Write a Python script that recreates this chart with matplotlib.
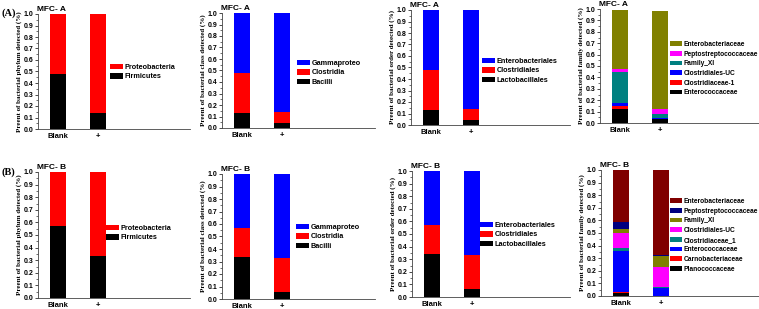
import matplotlib
matplotlib.use("Agg")
import matplotlib.pyplot as plt
from matplotlib.patches import Patch
from matplotlib.ticker import MultipleLocator
from matplotlib.transforms import ScaledTranslation

W, H = 759, 309

samples = ["Blank", "+"]

phylum_names = ["Firmicutes", "Proteobacteria"]
phylum_A = {"Blank": [0.48, 0.52], "+": [0.14, 0.86]}
phylum_B = {"Blank": [0.57, 0.43], "+": [0.33, 0.67]}

class_names = ["Bacilli", "Clostridia", "Gammaproteo"]
class_A = {"Blank": [0.13, 0.35, 0.52], "+": [0.04, 0.10, 0.86]}
class_B = {"Blank": [0.34, 0.23, 0.43], "+": [0.06, 0.27, 0.67]}

order_names = ["Lactobacillales", "Clostridiales", "Enterobacteriales"]
order_A = {"Blank": [0.13, 0.35, 0.52], "+": [0.045, 0.095, 0.86]}
order_B = {"Blank": [0.34, 0.23, 0.43], "+": [0.06, 0.27, 0.67]}

family_A_names = ["Enterococcaceae", "Clostridiaceae-1", "Clostridiales-UC",
                  "Family_XI", "Peptostreptococcaceae", "Enterobacteriaceae"]
family_A = {"Blank": [0.125, 0.025, 0.025, 0.27, 0.025, 0.52],
            "+": [0.035, 0.002, 0.003, 0.042, 0.038, 0.86]}

family_B_names = ["Planococcaceae", "Carnobacteriaceae", "Enterococcaceae",
                  "Clostridiaceae_1", "Clostridiales-UC", "Family_XI",
                  "Peptostreptococcaceae", "Enterobacteriaceae"]
family_B = {"Blank": [0.02, 0.014, 0.326, 0.018, 0.122, 0.03, 0.055, 0.415],
            "+": [0.0, 0.0, 0.065, 0.003, 0.162, 0.085, 0.013, 0.672]}

c2 = ["#000000", "#ff0000"]
c3 = ["#000000", "#ff0000", "#0000ff"]
c6 = ["#000000", "#ff0000", "#0000ff", "#008080", "#ff00ff", "#808000"]
c8 = ["#000000", "#ff0000", "#0000ff", "#008080", "#ff00ff", "#808000", "#000080", "#800000"]

panels = [
    ((38, 190, 14, 129), (110, 64), phylum_names, phylum_A, c2, "phylum", "MFC- A"),
    ((222, 375, 13, 128), (297, 60), class_names, class_A, c3, "class", "MFC- A"),
    ((411, 570, 10, 125), (482, 58), order_names, order_A, c3, "order", "MFC- A"),
    ((600, 759, 9, 123), (670, 41), family_A_names, family_A, c6, "family", "MFC- A"),
    ((38, 190, 172, 298), (106, 225), phylum_names, phylum_B, c2, "phylum", "MFC- B"),
    ((222, 375, 174, 299), (296, 224), class_names, class_B, c3, "class", "MFC- B"),
    ((412, 570, 171, 297), (480, 222), order_names, order_B, c3, "order", "MFC- B"),
    ((601, 759, 170, 296), (670, 198), family_B_names, family_B, c8, "family", "MFC- B"),
]

fig = plt.figure(figsize=(W / 100, H / 100), dpi=100)
fig.patch.set_facecolor("white")

sans = "Liberation Sans"
serif = "Liberation Serif"

for (x0, x1, top, bot), (lx, ly), names, data, cols, level, title in panels:
    ax = fig.add_axes([x0 / W, 1 - bot / H, (x1 - x0) / W, (bot - top) / H])
    width_px = x1 - x0
    xs = [0, 1]
    for xi, s in zip(xs, samples):
        bottom = 0.0
        for v, c in zip(data[s], cols):
            ax.bar(xi, v, bottom=bottom, width=0.4, color=c, edgecolor="none")
            bottom += v
    ax.set_xlim(-0.5, -0.5 + width_px / 40.0)
    ax.set_ylim(0, 1.0)
    ax.yaxis.set_major_locator(MultipleLocator(0.1))
    ax.yaxis.set_minor_locator(MultipleLocator(0.05))
    ax.set_xticks(xs)
    ax.set_xticklabels(samples, fontweight="bold", fontfamily=sans, fontsize=5.5)
    for sp in ["top", "right"]:
        ax.spines[sp].set_visible(False)
    for sp in ["left", "bottom"]:
        ax.spines[sp].set_linewidth(0.6)
        ax.spines[sp].set_color("#444444")
    ax.tick_params(axis="y", which="major", length=2, width=0.5, pad=1.2)
    ax.tick_params(axis="x", which="major", length=0, pad=3)
    ax.tick_params(axis="y", which="minor", length=1.2, width=0.4)
    ax.set_yticklabels([f"{v:.1f}" for v in ax.get_yticks()], fontweight="bold",
                       fontfamily=sans, fontsize=5)
    ax.set_ylabel(f"Preent of bacterial {level} detected (%)", fontfamily=serif,
                  fontweight="bold", fontsize=5, labelpad=1.5)
    ax.text(0.0, 1.0, title, transform=ax.transAxes +
            ScaledTranslation(-0.01, 0.01, fig.dpi_scale_trans), ha="left", va="bottom",
            fontfamily=sans, fontweight="bold", fontsize=6)
    handles = [Patch(facecolor=c, edgecolor="none") for c in cols][::-1]
    fs = 4.8 if level == "family" else 5.2
    ax.legend(handles, names[::-1], loc="upper left",
              bbox_to_anchor=(lx / W, 1 - ly / H), bbox_transform=fig.transFigure,
              frameon=False, handlelength=1.75, handleheight=0.75,
              labelspacing=0.4 if level == "family" else 0.3,
              handletextpad=0.3, borderpad=0, borderaxespad=0,
              prop={"family": sans, "weight": "bold", "size": fs})

fig.text(1 / W, 1 - 13 / H, "(A)", fontfamily=serif, fontweight="bold", fontsize=7.5,
         va="center", ha="left")
fig.text(1 / W, 1 - 172 / H, "(B)", fontfamily=serif, fontweight="bold", fontsize=7.5,
         va="center", ha="left")

fig.savefig("out.png", dpi=100, facecolor="white")
